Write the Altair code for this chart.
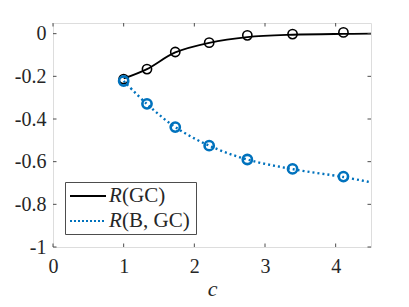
import altair as alt
import pandas as pd

# marker positions
c_mark = [1.0, 1.33, 1.73, 2.21, 2.75, 3.39, 4.11]
r_gc_mark = [-0.213, -0.166, -0.086, -0.042, -0.008, -0.002, 0.006]
r_bgc_mark = [-0.222, -0.329, -0.438, -0.525, -0.590, -0.634, -0.670]

# curve points
c_line = [1.0, 1.33, 1.73, 2.21, 2.75, 3.39, 4.11, 4.5]
r_gc_line = [-0.210, -0.166, -0.088, -0.043, -0.016, -0.005, -0.001, 0.0]
r_bgc_line = [-0.222, -0.330, -0.438, -0.525, -0.590, -0.635, -0.672, -0.697]

x_ticks = [0, 1, 2, 3, 4]
y_ticks = [0, -0.2, -0.4, -0.6, -0.8, -1]

W, H = 318, 224
FONT = "Times New Roman"
BLUE = "#0072BD"
AX = "#4d4d4d"
TXT = "#262626"
TL = 3.5

xs = alt.Scale(domain=[0, 4.5], nice=False, zero=False)
ys = alt.Scale(domain=[-1, 0.05], nice=False, zero=False)

gc_line = pd.DataFrame({"c": c_line, "R": r_gc_line})
bgc_line = pd.DataFrame({"c": c_line, "R": r_bgc_line})
gc_mark = pd.DataFrame({"c": c_mark, "R": r_gc_mark})
bgc_mark = pd.DataFrame({"c": c_mark, "R": r_bgc_mark})
xt = pd.DataFrame({"c": x_ticks})
yt = pd.DataFrame({"R": y_ticks})
one = pd.DataFrame({"a": [0]})

xaxis = alt.Axis(values=x_ticks, title="c", tickSize=0, grid=False, labelFlush=False,
                 labelFont=FONT, labelPadding=9, domain=False, titlePadding=2, format="d")
yaxis = alt.Axis(values=y_ticks, title=None, tickSize=0, grid=False, labelFlush=False,
                 labelFont=FONT, labelPadding=7, domain=False,
                 labelExpr="datum.value == 0 ? '0' : datum.value == -1 ? '-1' : replace(format(datum.value, '.1f'), '\u2212', '-')")

X = alt.X("c:Q", scale=xs, axis=xaxis)
Y = alt.Y("R:Q", scale=ys, axis=yaxis)

l_gc = alt.Chart(gc_line).mark_line(color="black", strokeWidth=1.8, interpolate="catmull-rom").encode(x=X, y=Y)
l_bgc = alt.Chart(bgc_line).mark_line(color=BLUE, strokeWidth=2.4, strokeDash=[2, 3], interpolate="catmull-rom").encode(x=X, y=Y)
m_gc = alt.Chart(gc_mark).mark_point(shape="circle", filled=False, color="black", strokeWidth=1.6, size=85, opacity=1).encode(x=X, y=Y)
m_bgc = alt.Chart(bgc_mark).mark_point(shape="circle", filled=False, color=BLUE, strokeWidth=2.6, size=85, opacity=1).encode(x=X, y=Y)

tb = alt.Chart(xt).mark_rule(color=AX, strokeWidth=1).encode(x=X, y=alt.value(H), y2=alt.value(H - TL))
tt = alt.Chart(xt).mark_rule(color=AX, strokeWidth=1).encode(x=X, y=alt.value(0), y2=alt.value(TL))
tl = alt.Chart(yt).mark_rule(color=AX, strokeWidth=1).encode(y=Y, x=alt.value(0), x2=alt.value(TL))
tr = alt.Chart(yt).mark_rule(color=AX, strokeWidth=1).encode(y=Y, x=alt.value(W), x2=alt.value(W - TL))

# legend
lg_box = alt.Chart(one).mark_rect(fill="white", stroke=AX, strokeWidth=1).encode(
    x=alt.value(12.5), x2=alt.value(143.5), y=alt.value(159.5), y2=alt.value(211.5))
lg_l1 = alt.Chart(one).mark_rule(color="black", strokeWidth=1.8).encode(
    x=alt.value(17), x2=alt.value(53), y=alt.value(173))
lg_l2 = alt.Chart(one).mark_rule(color=BLUE, strokeWidth=2.2, strokeDash=[2, 2]).encode(
    x=alt.value(17), x2=alt.value(53), y=alt.value(198))
lg_texts = []
for yy, rest in [(173, "(GC)"), (198, "(B, GC)")]:
    lg_texts.append(alt.Chart(one).mark_text(text="R", font=FONT, fontSize=21, fontStyle="italic",
                                               align="left", baseline="middle", color=TXT).encode(
        x=alt.value(56), y=alt.value(yy)))
    lg_texts.append(alt.Chart(one).mark_text(text=rest, font=FONT, fontSize=21,
                                               align="left", baseline="middle", color=TXT).encode(
        x=alt.value(69), y=alt.value(yy)))

chart = alt.layer(l_gc, l_bgc, m_gc, m_bgc, tb, tt, tl, tr, lg_box, lg_l1, lg_l2, *lg_texts).properties(
    width=W, height=H,
    autosize=alt.AutoSizeParams(type="none"),
    padding={"left": 45, "top": 15, "right": 30, "bottom": 52},
).configure_view(stroke=AX, strokeWidth=1).configure(background="white", font=FONT).configure_axis(
    labelFont=FONT, labelFontSize=20, labelColor=TXT,
    titleFont=FONT, titleFontSize=22, titleFontStyle="italic",
    titleFontWeight="normal", titleColor=TXT,
)

chart.save("out.html", embed_options={"renderer": "svg", "actions": False})
